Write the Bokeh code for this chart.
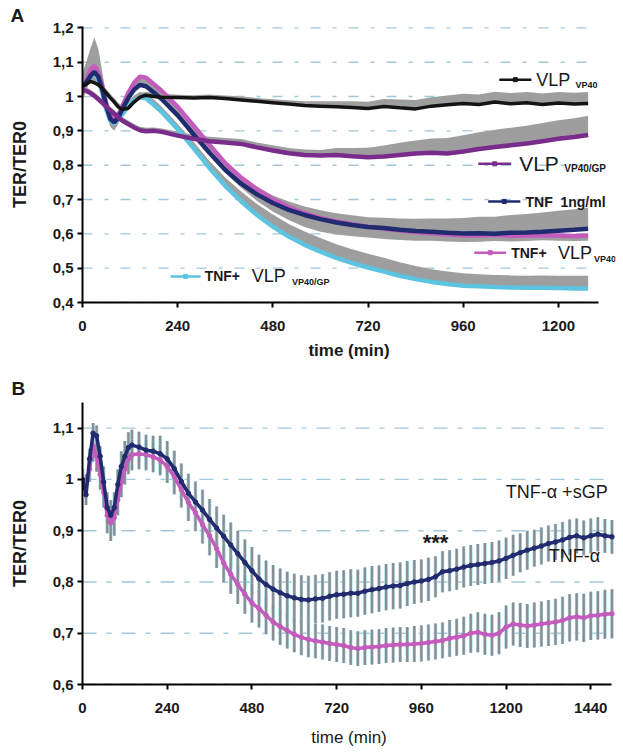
from bokeh.plotting import figure
from bokeh.layouts import column
from bokeh.models import FixedTicker, Label, Range1d, Title
from bokeh.embed import file_html
from bokeh.resources import INLINE

FONT = "Liberation Sans"

# ---------------- Panel A data ----------------
A_TIME = [0, 10, 20, 30, 40, 50, 60, 70, 80, 90, 100, 115, 130, 145, 160, 180, 200,
          240, 280, 320, 360, 400, 440, 480, 520, 560, 600, 640, 680, 720, 760, 800,
          840, 880, 920, 960, 1000, 1040, 1080, 1120, 1160, 1200, 1240, 1275]

vlp_vp40 = [1.030, 1.036, 1.044, 1.040, 1.034, 1.024, 1.010, 0.996, 0.984, 0.970, 0.962,
            0.966, 0.984, 0.998, 1.004, 1.000, 0.998,
            0.997, 0.996, 0.997, 0.994, 0.990, 0.986, 0.982, 0.978, 0.974, 0.972,
            0.970, 0.968, 0.965, 0.971, 0.967, 0.964, 0.972, 0.976, 0.980, 0.977,
            0.984, 0.979, 0.982, 0.977, 0.981, 0.978, 0.980]
vlp_vp40_err = [0.015, 0.02, 0.02, 0.02, 0.015, 0.015, 0.012, 0.012, 0.012, 0.012, 0.012,
                0.01, 0.01, 0.01, 0.01, 0.01, 0.01,
                0.008, 0.008, 0.009, 0.009, 0.01, 0.01, 0.01, 0.011, 0.012, 0.014,
                0.016, 0.018, 0.02, 0.022, 0.024, 0.026, 0.026, 0.027, 0.028, 0.029,
                0.03, 0.031, 0.031, 0.032, 0.032, 0.033, 0.033]

vlp_vp40gp = [1.020, 1.016, 1.010, 1.002, 0.992, 0.982, 0.970, 0.960, 0.950, 0.940, 0.930,
              0.920, 0.910, 0.902, 0.899, 0.900, 0.897,
              0.886, 0.877, 0.870, 0.866, 0.862, 0.852, 0.843, 0.835, 0.830, 0.828,
              0.830, 0.826, 0.823, 0.825, 0.830, 0.834, 0.836, 0.834, 0.840, 0.847,
              0.853, 0.858, 0.863, 0.870, 0.877, 0.882, 0.888]
vlp_vp40gp_err = [0.01, 0.01, 0.01, 0.01, 0.01, 0.01, 0.01, 0.01, 0.01, 0.01, 0.01,
                  0.01, 0.01, 0.01, 0.01, 0.01, 0.01,
                  0.012, 0.012, 0.013, 0.013, 0.014, 0.014, 0.015, 0.015, 0.016, 0.016,
                  0.02, 0.024, 0.028, 0.032, 0.035, 0.038, 0.042, 0.045, 0.047, 0.049,
                  0.05, 0.051, 0.052, 0.053, 0.054, 0.055, 0.056]

tnf = [1.030, 1.042, 1.060, 1.072, 1.058, 1.020, 0.972, 0.935, 0.925, 0.938, 0.962,
       0.995, 1.020, 1.034, 1.030, 1.012, 0.992,
       0.945, 0.890, 0.836, 0.786, 0.746, 0.715, 0.690, 0.670, 0.655, 0.643,
       0.633, 0.626, 0.620, 0.617, 0.612, 0.608, 0.606, 0.603, 0.601, 0.602,
       0.600, 0.603, 0.604, 0.606, 0.609, 0.612, 0.615]
tnf_err = [0.04, 0.06, 0.08, 0.10, 0.08, 0.05, 0.03, 0.02, 0.02, 0.02, 0.02,
           0.02, 0.025, 0.03, 0.03, 0.03, 0.025,
           0.02, 0.02, 0.02, 0.02, 0.02, 0.022, 0.022, 0.024, 0.025, 0.026,
           0.027, 0.028, 0.028, 0.03, 0.033, 0.036, 0.039, 0.042, 0.045, 0.048,
           0.05, 0.052, 0.054, 0.056, 0.058, 0.06, 0.061]

tnf_vp40 = [1.020, 1.048, 1.078, 1.090, 1.070, 1.030, 0.980, 0.942, 0.930, 0.945, 0.970,
            1.010, 1.040, 1.058, 1.055, 1.036, 1.016,
            0.970, 0.915, 0.860, 0.806, 0.764, 0.730, 0.701, 0.678, 0.660, 0.646,
            0.636, 0.628, 0.621, 0.615, 0.610, 0.605, 0.602, 0.598, 0.596, 0.595,
            0.597, 0.594, 0.595, 0.596, 0.595, 0.594, 0.595]
tnf_vp40_err = [0.03, 0.03, 0.03, 0.03, 0.03, 0.03, 0.03, 0.03, 0.03, 0.025, 0.02,
                0.02, 0.02, 0.02, 0.02, 0.02, 0.02,
                0.02, 0.022, 0.025, 0.028, 0.03, 0.034, 0.036, 0.038, 0.04, 0.04,
                0.038, 0.035, 0.032, 0.03, 0.028, 0.025, 0.022, 0.02, 0.02, 0.018,
                0.018, 0.016, 0.016, 0.015, 0.015, 0.015, 0.015]

tnf_vp40gp = [1.030, 1.040, 1.058, 1.068, 1.050, 1.010, 0.962, 0.930, 0.922, 0.932, 0.948,
              0.970, 0.988, 0.998, 0.995, 0.976, 0.955,
              0.905, 0.850, 0.792, 0.740, 0.695, 0.655, 0.621, 0.592, 0.568, 0.548,
              0.530, 0.515, 0.502, 0.490, 0.478, 0.468, 0.460, 0.454, 0.449, 0.447,
              0.445, 0.444, 0.443, 0.443, 0.442, 0.441, 0.441]
tnf_vp40gp_err = [0.02, 0.02, 0.02, 0.02, 0.02, 0.02, 0.02, 0.02, 0.02, 0.02, 0.02,
                  0.015, 0.015, 0.015, 0.015, 0.015, 0.015,
                  0.015, 0.018, 0.02, 0.024, 0.028, 0.032, 0.035, 0.037, 0.039, 0.04,
                  0.04, 0.04, 0.04, 0.04, 0.039, 0.038, 0.037, 0.036, 0.036, 0.035,
                  0.035, 0.035, 0.035, 0.036, 0.036, 0.037, 0.037]

A_XTICKS = [0, 240, 480, 720, 960, 1200]
A_XLABELS = ["0", "240", "480", "720", "960", "1200"]
A_YTICKS = [0.4, 0.5, 0.6, 0.7, 0.8, 0.9, 1.0, 1.1, 1.2]
A_YLABELS = ["0,4", "0,5", "0,6", "0,7", "0,8", "0,9", "1", "1,1", "1,2"]

# ---------------- Panel B data ----------------
B_TIME = [0, 10, 20, 30, 40, 50, 60, 70, 80, 90, 100, 110, 120, 130, 140,
          160, 180, 200, 220, 240, 260, 280, 300, 320, 340, 360, 380, 400, 420, 440,
          460, 480, 500, 520, 540, 560, 580, 600, 620, 640, 660, 680, 700, 720, 740,
          760, 780, 800, 820, 840, 860, 880, 900, 920, 940, 960, 980, 1000,
          1020, 1040, 1060, 1080, 1100, 1120, 1140, 1160, 1180, 1200, 1220, 1240, 1260,
          1280, 1300, 1320, 1340, 1360, 1380, 1400, 1420, 1440, 1460, 1480, 1500]

tnf_sgp = [1.000, 0.970, 1.040, 1.090, 1.085, 1.045, 0.995, 0.945, 0.930, 0.945, 0.990,
           1.025, 1.045, 1.062, 1.067,
           1.063, 1.057, 1.055, 1.050, 1.040, 1.021, 0.996, 0.973, 0.956, 0.940, 0.922,
           0.905, 0.889, 0.872, 0.855,
           0.838, 0.822, 0.806, 0.795, 0.786, 0.779, 0.773, 0.769, 0.766, 0.765, 0.767,
           0.768, 0.772, 0.775, 0.776, 0.778, 0.778, 0.782, 0.785, 0.787, 0.790, 0.792,
           0.793, 0.797, 0.800, 0.802, 0.805, 0.810,
           0.820, 0.822, 0.825, 0.829, 0.832, 0.834, 0.836, 0.838, 0.841, 0.846, 0.852,
           0.857, 0.862, 0.866, 0.870, 0.875, 0.878, 0.882, 0.887, 0.890, 0.886, 0.890,
           0.893, 0.890, 0.888]
tnf_sgp_err = [0.02, 0.02, 0.02, 0.02, 0.02, 0.02, 0.03, 0.03, 0.03, 0.03, 0.03, 0.03,
               0.03, 0.03, 0.03,
               0.03, 0.03, 0.03, 0.035, 0.035, 0.035, 0.035, 0.038, 0.04, 0.04, 0.04,
               0.042, 0.042, 0.044, 0.045,
               0.045, 0.046, 0.047, 0.047, 0.047, 0.047, 0.047, 0.047, 0.047, 0.047,
               0.047, 0.047, 0.047, 0.047, 0.047, 0.047, 0.046, 0.046, 0.046, 0.045,
               0.045, 0.045, 0.045, 0.044, 0.043, 0.042, 0.042, 0.04,
               0.04, 0.04, 0.04, 0.04, 0.04, 0.04, 0.04, 0.04, 0.04, 0.04, 0.04, 0.038,
               0.038, 0.036, 0.036, 0.035, 0.035, 0.035, 0.035, 0.034, 0.034, 0.034,
               0.033, 0.033, 0.033]

tnf_alpha = [1.000, 0.990, 1.020, 1.065, 1.045, 1.010, 0.975, 0.930, 0.915, 0.925, 0.960,
             0.995, 1.020, 1.040, 1.048,
             1.050, 1.048, 1.044, 1.038, 1.025, 1.005, 0.980, 0.955, 0.935, 0.912, 0.890,
             0.865, 0.837, 0.815, 0.795,
             0.776, 0.759, 0.748, 0.735, 0.722, 0.713, 0.705, 0.698, 0.692, 0.688, 0.685,
             0.683, 0.680, 0.678, 0.676, 0.672, 0.670, 0.672, 0.673, 0.674, 0.676, 0.677,
             0.678, 0.678, 0.679, 0.680, 0.682, 0.684,
             0.686, 0.690, 0.692, 0.695, 0.700, 0.702, 0.698, 0.696, 0.700, 0.712, 0.718,
             0.716, 0.714, 0.716, 0.718, 0.720, 0.722, 0.725, 0.730, 0.732, 0.730, 0.734,
             0.735, 0.737, 0.738]
tnf_alpha_err = [0.02, 0.02, 0.025, 0.03, 0.03, 0.03, 0.03, 0.035, 0.035, 0.035, 0.03,
                 0.03, 0.03, 0.03, 0.03,
                 0.03, 0.03, 0.03, 0.03, 0.032, 0.034, 0.035, 0.036, 0.036, 0.037, 0.038,
                 0.038, 0.038, 0.038, 0.038,
                 0.038, 0.038, 0.037, 0.037, 0.036, 0.036, 0.035, 0.035, 0.035, 0.035,
                 0.034, 0.034, 0.034, 0.034, 0.034, 0.034, 0.034, 0.034, 0.034, 0.034,
                 0.034, 0.034, 0.034, 0.034, 0.035, 0.035, 0.035, 0.035,
                 0.035, 0.036, 0.036, 0.037, 0.038, 0.039, 0.04, 0.04, 0.041, 0.042, 0.042,
                 0.043, 0.043, 0.044, 0.044, 0.045, 0.045, 0.046, 0.046, 0.046, 0.047,
                 0.047, 0.047, 0.048, 0.048]

B_XTICKS = [0, 240, 480, 720, 960, 1200, 1440]
B_XLABELS = ["0", "240", "480", "720", "960", "1200", "1440"]
B_YTICKS = [0.6, 0.7, 0.8, 0.9, 1.0, 1.1]
B_YLABELS = ["0,6", "0,7", "0,8", "0,9", "1", "1,1"]

# colours
C_BLACK = "#141414"
C_PURPLE = "#7a2c8c"
C_NAVY = "#212b70"
C_MAGENTA = "#c45cbe"
C_CYAN = "#5cc3e0"
C_GRAY = "#9e9e9e"
C_GRID = "#a3c8da"
C_TEXT = "#1a1a1a"


def style(p, xticks, xlabels, yticks, ylabels, xbounds, dash, xlabel_bold, xlabel_standoff):
    p.outline_line_color = None
    p.background_fill_color = "white"
    p.border_fill_color = "white"
    p.xgrid.visible = False
    p.ygrid.visible = False
    # horizontal dash-dot grid lines, limited to the axis extent
    n = len(yticks)
    p.segment(x0=[xbounds[0]] * n, y0=yticks, x1=[xbounds[1]] * n, y1=yticks,
              line_color=C_GRID, line_width=1.4, line_dash=dash)
    p.xaxis.ticker = FixedTicker(ticks=xticks)
    p.xaxis.major_label_overrides = dict(zip(xticks, xlabels))
    p.xaxis.bounds = xbounds
    p.yaxis.ticker = FixedTicker(ticks=yticks)
    p.yaxis.major_label_overrides = dict(zip(yticks, ylabels))
    for ax in (p.xaxis[0], p.yaxis[0]):
        ax.axis_line_color = "black"
        ax.axis_line_width = 2
        ax.major_tick_line_color = "black"
        ax.major_tick_line_width = 2
        ax.major_tick_in = 0
        ax.major_tick_out = 5
        ax.minor_tick_line_color = None
        ax.major_label_text_font = FONT
        ax.major_label_text_font_size = "15px"
        ax.major_label_text_font_style = "bold"
        ax.major_label_text_color = C_TEXT
        ax.axis_label_text_font = FONT
        ax.axis_label_text_color = C_TEXT
    p.xaxis.major_label_standoff = 13
    p.yaxis.major_label_standoff = 4
    p.xaxis.axis_label = "time (min)"
    p.xaxis.axis_label_text_font_size = "17px"
    p.xaxis.axis_label_text_font_style = "bold" if xlabel_bold else "normal"
    p.xaxis.axis_label_standoff = xlabel_standoff
    p.yaxis.axis_label = "TER/TER0"
    p.yaxis.axis_label_text_font_size = "18px"
    p.yaxis.axis_label_text_font_style = "bold"
    p.yaxis.axis_label_standoff = 20


def lab(p, x, y, text, size, bold=False, align="left", baseline="middle", color=C_TEXT):
    p.add_layout(Label(x=x, y=y, text=text, text_font=FONT, text_font_size=f"{size}px",
                       text_font_style="bold" if bold else "normal", text_align=align,
                       text_baseline=baseline, text_color=color))


# ---------------- Panel A ----------------
pa = figure(width=620, height=366, x_range=Range1d(0, 1344), y_range=Range1d(0.4, 1.204),
            output_backend="svg", toolbar_location=None,
            min_border_left=82, min_border_right=5, min_border_top=26, min_border_bottom=64)
pa.title = Title(text="A", align="left", offset=-72, standoff=2, text_font=FONT,
                 text_font_size="19px", text_font_style="bold", text_color=C_TEXT)
style(pa, A_XTICKS, A_XLABELS, A_YTICKS, A_YLABELS, (0, 1300), "10 12 4 12", True, 7)

# error bands (grey)
pa.varea(x=A_TIME, y1=vlp_vp40, y2=[v + e for v, e in zip(vlp_vp40, vlp_vp40_err)], color=C_GRAY)
pa.varea(x=A_TIME, y1=vlp_vp40gp, y2=[v + e for v, e in zip(vlp_vp40gp, vlp_vp40gp_err)], color=C_GRAY)
pa.varea(x=A_TIME, y1=tnf, y2=[v + e for v, e in zip(tnf, tnf_err)], color=C_GRAY)
pa.varea(x=A_TIME, y1=[v - e for v, e in zip(tnf_vp40, tnf_vp40_err)], y2=tnf_vp40, color=C_GRAY)
pa.varea(x=A_TIME, y1=tnf_vp40gp, y2=[v + e for v, e in zip(tnf_vp40gp, tnf_vp40gp_err)], color=C_GRAY)

pa.line(A_TIME, tnf_vp40gp, color=C_CYAN, line_width=4.5)
pa.line(A_TIME, tnf_vp40, color=C_MAGENTA, line_width=4.5)
pa.line(A_TIME, tnf, color=C_NAVY, line_width=4.5)
pa.line(A_TIME, vlp_vp40gp, color=C_PURPLE, line_width=4.5)
pa.line(A_TIME, vlp_vp40, color=C_BLACK, line_width=3.5)

# legend samples
for x0, x1, y, c in [(1051, 1132, 1.049, C_BLACK), (998, 1081, 0.804, C_PURPLE),
                     (1023, 1104, 0.694, C_NAVY), (988, 1068, 0.545, C_MAGENTA),
                     (222, 298, 0.476, C_CYAN)]:
    pa.segment(x0=[x0], y0=[y], x1=[x1], y1=[y], color=c, line_width=2.5)
    pa.scatter(x=[(x0 + x1) / 2], y=[y], marker="square", size=4, color=c)

lab(pa, 1144, 1.049, "VLP", 18)
lab(pa, 1243, 1.034, "VP40", 9, bold=True)
lab(pa, 1101, 0.806, "VLP", 21)
lab(pa, 1215, 0.790, "VP40/GP", 10, bold=True)
lab(pa, 1117, 0.694, "TNF\u00a0 1ng/ml", 14, bold=True)
lab(pa, 1081, 0.545, "TNF+", 14, bold=True)
lab(pa, 1199, 0.545, "VLP", 18)
lab(pa, 1290, 0.528, "VP40", 9, bold=True)
lab(pa, 308, 0.476, "TNF+", 14, bold=True)
lab(pa, 427, 0.476, "VLP", 18)
lab(pa, 528, 0.461, "VP40/GP", 9, bold=True)

# ---------------- Panel B ----------------
pb = figure(width=620, height=386, x_range=Range1d(0, 1510), y_range=Range1d(0.6, 1.15),
            output_backend="svg", toolbar_location=None,
            min_border_left=82, min_border_right=5, min_border_top=36, min_border_bottom=68)
pb.title = Title(text="B", align="left", offset=-71, standoff=7, text_font=FONT,
                 text_font_size="19px", text_font_style="bold", text_color=C_TEXT)
style(pb, B_XTICKS, B_XLABELS, B_YTICKS, B_YLABELS, (0, 1500), "14 10 5 10", False, 12)

for vals, errs in [(tnf_sgp, tnf_sgp_err), (tnf_alpha, tnf_alpha_err)]:
    lo = [v - e for v, e in zip(vals, errs)]
    hi = [v + e for v, e in zip(vals, errs)]
    pb.segment(x0=B_TIME, y0=lo, x1=B_TIME, y1=hi, color="#a3d6e6", line_width=3.4)
    pb.segment(x0=B_TIME, y0=lo, x1=B_TIME, y1=hi, color="#8a8d8f", line_width=2.2)

pb.line(B_TIME, tnf_alpha, color=C_MAGENTA, line_width=3.5)
pb.scatter(B_TIME, tnf_alpha, marker="circle", size=4.5, color=C_MAGENTA)
pb.line(B_TIME, tnf_sgp, color=C_NAVY, line_width=3.5)
pb.scatter(B_TIME, tnf_sgp, marker="circle", size=4.5, color=C_NAVY)

lab(pb, 1199, 0.975, "TNF-\u03b1 +sGP", 18)
lab(pb, 1321, 0.851, "TNF-\u03b1", 18)
lab(pb, 1000, 0.877, "***", 22, bold=True, align="center", baseline="alphabetic")

layout = column(pa, pb, spacing=0)
open("out.html", "w").write(file_html(layout, INLINE))
